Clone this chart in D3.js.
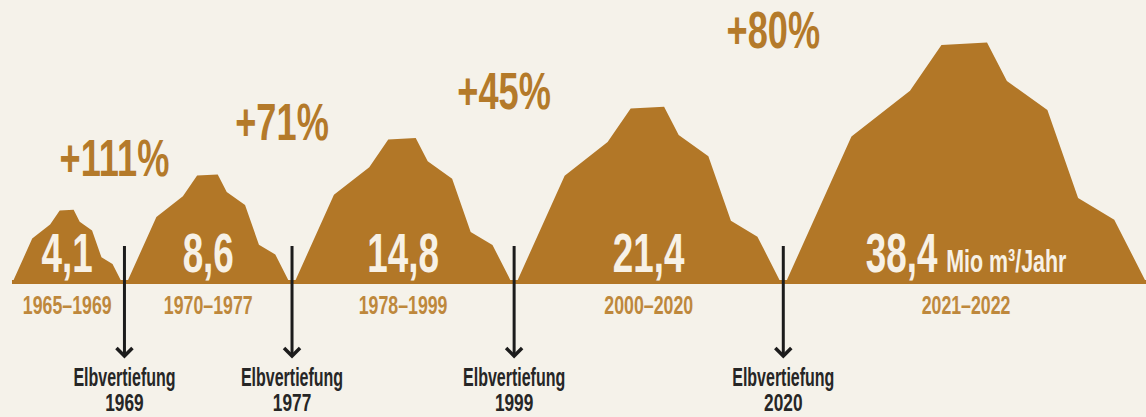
<!DOCTYPE html>
<html>
<head>
<meta charset="utf-8">
<script src="https://cdn.jsdelivr.net/npm/d3@7"></script>
<style>
  html, body { margin: 0; padding: 0; background: #f5f2ea; }
  svg { display: block; }
  text { font-family: "Liberation Sans", Arial, sans-serif; font-weight: bold; }
</style>
</head>
<body>
<svg id="chart" width="1146" height="417"></svg>
<script>
// Dredged sediment per period (million m³ per year)
const periods = ["1965–1969", "1970–1977", "1978–1999", "2000–2020", "2021–2022"];
const volumes = [4.1, 8.6, 14.8, 21.4, 38.4];
const volumeLabels = ["4,1", "8,6", "14,8", "21,4", "38,4"];
const unitLabel = "Mio m³/Jahr";

// Increase from one period to the next
const changeLabels = ["+111%", "+71%", "+45%", "+80%"];

// Fairway deepenings separating the periods
const deepeningLabel = "Elbvertiefung";
const deepeningYears = ["1969", "1977", "1999", "2020"];

// Mountain silhouette: x as share of width, y as share of height
const ridge = [
  [0, 0], [0.183, 0.61], [0.345, 0.80], [0.432, 0.99], [0.558, 1.0],
  [0.613, 0.84], [0.725, 0.72], [0.81, 0.355], [0.91, 0.265], [1, 0]
];

const W = 1146, H = 417;
const left = 12, baseY = 283.5, gap = 4, aspect = 1.5, maxHeight = 241;

const colors = {
  mountain: "#b27727",
  change: "#b47a2a",
  period: "#be883c",
  value: "#f7f1e6",
  note: "#262626",
  arrow: "#1c1c1c"
};

const svg = d3.select("#chart");

// Mountain size grows with volume (height and width scale together)
const heightScale = d3.scalePow().exponent(0.53)
  .domain([0, d3.max(volumes)])
  .range([0, maxHeight]);

// Lay the mountains out side by side
let cursor = left;
const peaks = volumes.map((v, i) => {
  const h = heightScale(v);
  const w = h * aspect;
  const p = { i, v, h, w, x0: cursor, x1: cursor + w, cx: cursor + w / 2, top: baseY - h };
  cursor += w + gap;
  return p;
});

// Baseline strip
svg.append("rect")
  .attr("x", left).attr("y", baseY - 3.5)
  .attr("width", W - left).attr("height", 4)
  .attr("fill", colors.mountain);

// Mountains
const line = d3.line().curve(d3.curveLinearClosed);
svg.append("g").selectAll("path")
  .data(peaks)
  .join("path")
  .attr("d", p => {
    const x = d3.scaleLinear().domain([0, 1]).range([p.x0, p.x1]);
    const y = d3.scaleLinear().domain([0, 1]).range([baseY, p.top]);
    return line(ridge.map(([fx, fy]) => [x(fx), y(fy)]));
  })
  .attr("fill", colors.mountain);

// Condensed text helper: draws text in a group squeezed horizontally
function squeezed(parent, x, y, sx) {
  return parent.append("g")
    .attr("transform", `translate(${x},${y}) scale(${sx},1)`)
    .append("text")
    .attr("text-anchor", "middle");
}

// Values inside the mountains
const valueLayer = svg.append("g");
peaks.forEach((p, i) => {
  const t = squeezed(valueLayer, p.cx, 272, 0.67)
    .attr("fill", colors.value)
    .attr("font-size", 55);
  t.append("tspan").text(volumeLabels[i]);
  if (i === peaks.length - 1) {
    t.append("tspan")
      .attr("dx", 13)
      .attr("font-size", 32)
      .text(unitLabel);
  }
});

// Period labels under the baseline
const periodLayer = svg.append("g");
peaks.forEach((p, i) => {
  squeezed(periodLayer, p.cx, 314, 0.71)
    .attr("fill", colors.period)
    .attr("font-size", 25)
    .text(periods[i]);
});

// Deepening arrows between the periods
const arrowX = peaks.slice(1).map((p, i) => (peaks[i].x1 + p.x0) / 2);
const arrowTop = 246, arrowTip = 357;

const arrows = svg.append("g")
  .attr("stroke", colors.arrow)
  .attr("fill", "none");
arrows.selectAll("line")
  .data(arrowX)
  .join("line")
  .attr("stroke-width", 3)
  .attr("x1", d => d).attr("x2", d => d)
  .attr("y1", arrowTop).attr("y2", arrowTip - 1);
arrows.selectAll("polyline")
  .data(arrowX)
  .join("polyline")
  .attr("stroke-width", 3.5)
  .attr("stroke-linejoin", "miter")
  .attr("points", d => `${d - 8},${arrowTip - 9} ${d},${arrowTip - 1} ${d + 8},${arrowTip - 9}`);

const noteLayer = svg.append("g");
arrowX.forEach((x, i) => {
  squeezed(noteLayer, x, 386, 0.64)
    .attr("fill", colors.note)
    .attr("font-size", 25)
    .text(deepeningLabel);
  squeezed(noteLayer, x, 411, 0.72)
    .attr("fill", colors.note)
    .attr("font-size", 24)
    .text(deepeningYears[i]);
});

// Growth labels, resting at the height of the following peak
// (kept low enough that the tallest one stays inside the frame)
const changeSize = 51;
const changeLayer = svg.append("g");
arrowX.forEach((x, i) => {
  const y = Math.max(peaks[i + 1].top + 2, changeSize * 0.94);
  squeezed(changeLayer, x - 10, y, 0.71)
    .attr("fill", colors.change)
    .attr("font-size", changeSize)
    .text(changeLabels[i]);
});
</script>
</body>
</html>
